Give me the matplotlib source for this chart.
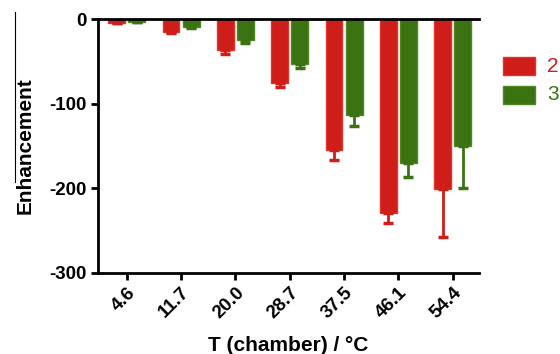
import matplotlib.pyplot as plt
import numpy as np
from matplotlib.lines import Line2D

plt.rcParams['font.family'] = ['Liberation Sans', 'DejaVu Sans']

# data
temps = ['4.6', '11.7', '20.0', '28.7', '37.5', '46.1', '54.4']
enh_2 = [-5, -15, -37, -75, -155, -229, -201]
err_2 = [0, 1, 4, 5, 11, 12, 56]
enh_3 = [-3, -9, -25, -53, -113, -170, -150]
err_3 = [0, 1, 3, 5, 13, 17, 50]

red, red_edge = '#cf1d1a', '#e2342c'
green, green_edge = '#3b7313', '#4c8a20'

fig = plt.figure(figsize=(5.6, 3.54), dpi=100)
ax = fig.add_axes([0.175, 0.229, 0.68, 0.717])

x = np.arange(len(temps))
w = 0.31
off = 0.185
ax.bar(x - off, enh_2, w, color=red, edgecolor=red_edge, linewidth=1)
ax.bar(x + off, enh_3, w, color=green, edgecolor=green_edge, linewidth=1)
ax.errorbar(x - off, enh_2, yerr=[err_2, [0] * len(x)], fmt='none', ecolor=red,
            elinewidth=2, capsize=3.5, capthick=2.5)
ax.errorbar(x + off, enh_3, yerr=[err_3, [0] * len(x)], fmt='none', ecolor=green,
            elinewidth=2, capsize=3.5, capthick=2.5)

ax.set_xlim(-0.53, 6.48)
ax.set_ylim(-300, 0)
ax.set_yticks([0, -100, -200, -300])
ax.set_yticklabels(['0', '-100', '-200', '-300'], fontweight='bold', fontsize=13.5)
ax.set_xticks(x)
ax.set_xticklabels(temps, rotation=45, ha='right', rotation_mode='anchor',
                   fontweight='bold', fontsize=13.5)
ax.tick_params(length=5, width=2, pad=3)
for s in ['left', 'bottom', 'top']:
    ax.spines[s].set_linewidth(2)
ax.spines['right'].set_visible(False)

ax.set_ylabel('Enhancement', fontweight='bold', fontsize=15, labelpad=11)
ax.set_xlabel('T (chamber) / °C', fontweight='bold', fontsize=15, labelpad=10)

# legend drawn by hand to match the original layout
fig.patches.append(plt.Rectangle((503 / 560, 1 - 75 / 354), 32 / 560, 18 / 354,
                                 transform=fig.transFigure, facecolor=red,
                                 edgecolor=red_edge, linewidth=1))
fig.patches.append(plt.Rectangle((503 / 560, 1 - 104 / 354), 32 / 560, 18 / 354,
                                 transform=fig.transFigure, facecolor=green,
                                 edgecolor=green_edge, linewidth=1))
fig.text(547 / 560, 1 - 66 / 354, '2', color=red, fontsize=15, va='center')
fig.text(547 / 560, 1 - 95 / 354, '3', color=green, fontsize=15, va='center')

# thin stray line at the left edge of the original
fig.add_artist(Line2D([15 / 560, 15 / 560], [1 - 12 / 354, 1 - 182 / 354],
                      color='black', linewidth=0.8))

fig.savefig('out.png', dpi=100)
